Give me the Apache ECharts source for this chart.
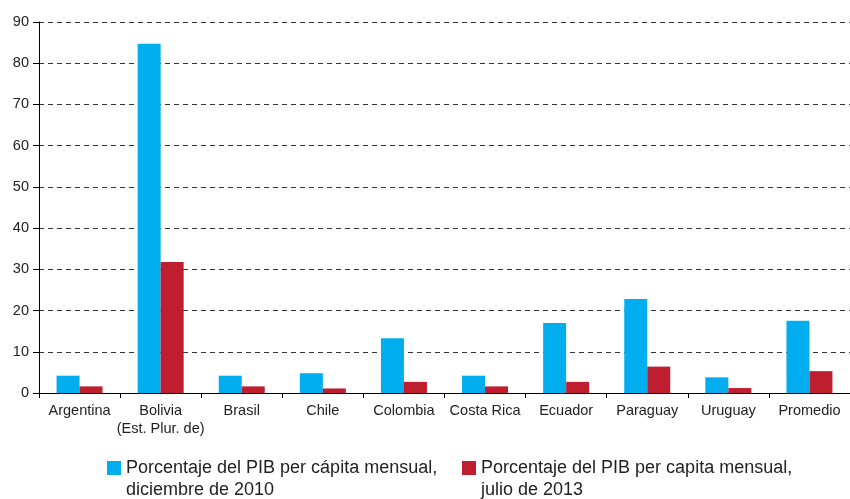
<!DOCTYPE html>
<html>
<head>
<meta charset="utf-8">
<script src="https://cdn.jsdelivr.net/npm/echarts@6/dist/echarts.min.js"></script>
<style>
  html, body { margin: 0; padding: 0; background: #fff; }
  #chart { width: 850px; height: 499px; }
</style>
</head>
<body>
<div id="chart"></div>
<script>
const categories = ["Argentina", "Bolivia\n(Est. Plur. de)", "Brasil", "Chile", "Colombia",
  "Costa Rica", "Ecuador", "Paraguay", "Uruguay", "Promedio"];
const dic2010 = [4.2, 84.7, 4.2, 4.8, 13.3, 4.2, 17.0, 22.8, 3.8, 17.5];
const jul2013 = [1.6, 31.8, 1.6, 1.1, 2.7, 1.6, 2.7, 6.4, 1.2, 5.3];

const name1 = "Porcentaje del PIB per cápita mensual,";
const name1b = "diciembre de 2010";
const name2 = "Porcentaje del PIB per capita mensual,";
const name2b = "julio de 2013";

const chart = echarts.init(document.getElementById("chart"));

const font = "Liberation Sans, Arial";
const legendText = { fontFamily: font, fontSize: 18, color: "#222", lineHeight: 22 };

chart.setOption({
  animation: false,
  backgroundColor: "#fff",
  textStyle: { fontFamily: font },
  grid: { left: 39, right: 0, top: 22, bottom: 106, containLabel: false },
  legend: [
    {
      data: [name1], left: 107, top: 457, padding: 0, itemWidth: 14, itemHeight: 14,
      icon: "rect", textStyle: legendText,
    },
    {
      data: [name2], left: 462, top: 457, padding: 0, itemWidth: 14, itemHeight: 14,
      icon: "rect", textStyle: legendText,
    },
  ],
  // second lines of the legend labels
  graphic: [
    { type: "text", left: 126, top: 481, style: { text: name1b, font: "18px " + font, fill: "#222" } },
    { type: "text", left: 481, top: 481, style: { text: name2b, font: "18px " + font, fill: "#222" } },
  ],
  xAxis: {
    type: "category",
    data: categories,
    axisLine: { lineStyle: { color: "#000", width: 1 } },
    axisTick: { show: true, length: 5, lineStyle: { color: "#000" } },
    axisLabel: { color: "#222", fontSize: 14.5, margin: 9, lineHeight: 18, interval: 0 },
  },
  yAxis: {
    type: "value",
    min: 0,
    max: 90,
    interval: 10,
    axisLine: { show: true, lineStyle: { color: "#000", width: 1 } },
    axisTick: { show: true, length: 6, lineStyle: { color: "#000" } },
    axisLabel: { color: "#222", fontSize: 14.5, margin: 10 },
    splitLine: { lineStyle: { color: "#333", type: [5, 4], width: 1 } },
  },
  series: [
    {
      name: name1,
      type: "bar",
      data: dic2010,
      barWidth: 23,
      barGap: "0%",
      itemStyle: { color: "#00AEEF" },
    },
    {
      name: name2,
      type: "bar",
      data: jul2013,
      barWidth: 23,
      itemStyle: { color: "#BE1E2D" },
    },
  ],
});
</script>
</body>
</html>
